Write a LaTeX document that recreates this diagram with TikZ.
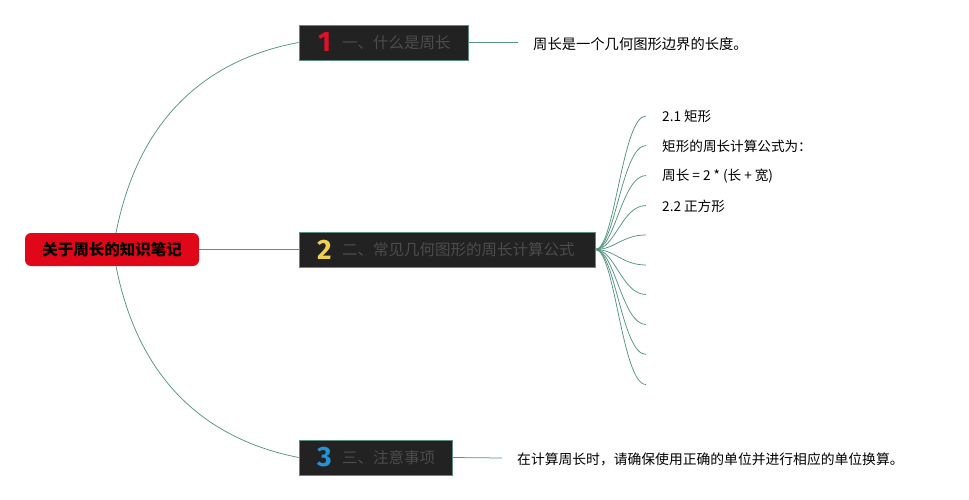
\documentclass[tikz,border=0pt]{standalone}
\usepackage{fontspec}
\setmainfont{Noto Sans CJK SC}
\newfontfamily\cjk{Noto Sans CJK SC}
\newfontfamily\numfont{Fira Sans}
\definecolor{linec}{RGB}{84,148,128}
\definecolor{rootred}{RGB}{224,8,24}
\definecolor{boxfill}{RGB}{34,34,34}
\definecolor{boxedge}{RGB}{96,140,128}
\definecolor{boxtext}{RGB}{76,76,76}
\definecolor{numred}{RGB}{222,16,42}
\definecolor{numyellow}{RGB}{240,208,80}
\definecolor{numblue}{RGB}{36,146,214}
\begin{document}
\begin{tikzpicture}[x=1pt,y=-1pt,
  conn/.style={draw=linec, line width=0.75pt},
  rootbox/.style={fill=rootred, rounded corners=6pt, minimum width=174pt, minimum height=33pt, inner sep=0pt, font=\cjk\fontsize{15.5}{17}\selectfont\bfseries, text=black},
  topicbox/.style={fill=boxfill, draw=boxedge, line width=0.8pt, minimum height=35pt, inner sep=0pt},
  topictxt/.style={anchor=west, inner sep=0pt, font=\cjk\fontsize{15.5}{17}\selectfont, text=boxtext},
  numtxt/.style={anchor=west, inner sep=0pt, font=\numfont\bfseries\fontsize{28}{30}\selectfont},
  leaf/.style={anchor=west, inner sep=0pt, font=\cjk\fontsize{14.3}{16}\selectfont, text=black},
  subleaf/.style={anchor=west, inner sep=0pt, font=\cjk\fontsize{13.6}{15}\selectfont, text=black}
]
\useasboundingbox (0,0) rectangle (969,500);

% root
\node[rootbox] (root) at (112,249.5) {关于周长的知识笔记};

% topics
\node[topicbox, minimum width=169pt] (b1) at (383.5,42.5) {};
\node[numtxt, text=numred] (n1) at (318,42.5) {1};
\node[topictxt] (t1) at (342,42.5) {一、什么是周长};

\node[topicbox, minimum width=296pt] (b2) at (447,249.5) {};
\node[numtxt, text=numyellow] (n2) at (317,249.5) {2};
\node[topictxt] (t2) at (342,249.5) {二、常见几何图形的周长计算公式};

\node[topicbox, minimum width=153pt] (b3) at (375.5,457.5) {};
\node[numtxt, text=numblue] (n3) at (317,457.5) {3};
\node[topictxt] (t3) at (342,457.5) {三、注意事项};

% root connectors
\draw[conn] (116,233) .. controls (140,110) and (215,58) .. (b1.west);
\draw[conn] (root.east) -- (b2.west);
\draw[conn] (116,266) .. controls (140,389) and (215,441) .. (b3.west);

% leaf 1
\coordinate (e1) at (518,42.5);
\draw[conn] (b1.east) -- (e1);
\node[leaf] (l1) at (533,44) {周长是一个几何图形边界的长度。};

% leaf 3
\coordinate (e3) at (502,458);
\draw[conn] (b3.east) -- (e3);
\node[leaf, font=\cjk\fontsize{13.8}{16}\selectfont] (l3) at (517,459.5) {在计算周长时，请确保使用正确的单位并进行相应的单位换算。};

% branch 2 children
\coordinate (hub) at (b2.east);
\foreach \i/\yy in {1/116,2/145.5,3/175.5,4/205.5,5/235,6/265,7/294.5,8/324.5,9/354.5,10/384.5}{
  \coordinate (c\i) at (646,\yy);
  \draw[conn] (hub) .. controls (615,249.5) and (622,\yy) .. (c\i);
}
\node[subleaf] (s1) at (662,116) {2.1 矩形};
\node[subleaf] (s2) at (662,146) {矩形的周长计算公式为：};
\node[subleaf] (s3) at (662,176) {周长 = 2 * (长 + 宽)};
\node[subleaf] (s4) at (662,206) {2.2 正方形};
\end{tikzpicture}
\end{document}
